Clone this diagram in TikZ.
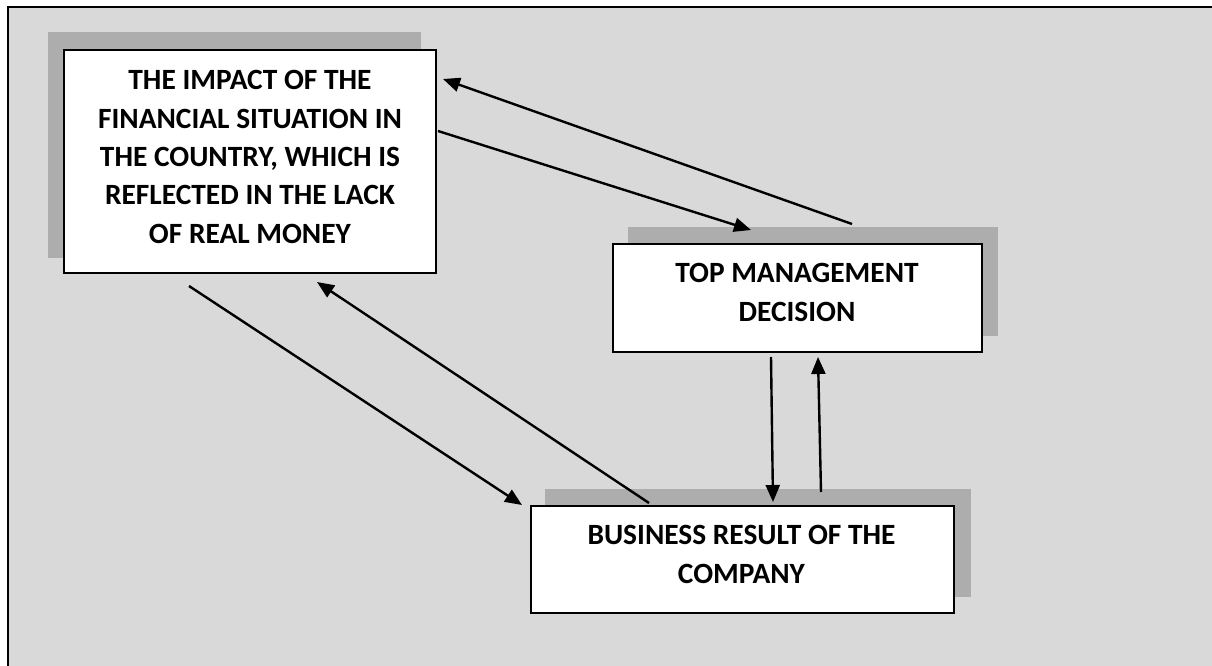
\documentclass[tikz,border=0pt]{standalone}
\usepackage{fontspec}
\setmainfont{Carlito}
\usetikzlibrary{arrows.meta}
\definecolor{bggray}{HTML}{D9D9D9}
\definecolor{shadowgray}{HTML}{ADADAD}
\tikzset{
  box/.style={draw=black, line width=2.2pt, fill=white, inner sep=0pt},
  boxtext/.style={inner sep=0pt, align=center,
    font=\fontsize{29.4}{38.4}\selectfont\bfseries},
  shade/.style={fill=shadowgray, draw=none},
  conn/.style={line width=2.4pt, -{Triangle[length=17pt,width=14pt]}}
}
\begin{document}
\begin{tikzpicture}[x=1pt,y=-1pt]
\useasboundingbox (0,0) rectangle (1212,666);
\clip (0,0) rectangle (1212,666);
\fill[white] (0,0) rectangle (1212,666);
\draw[fill=bggray, line width=2.4pt] (8,7) rectangle (1230,690);
% shadows
\fill[shade] (48,32) rectangle (421,258);
\fill[shade] (628,227) rectangle (998,336);
\fill[shade] (545,489) rectangle (971,597);
% boxes
\node[box, minimum width=372pt, minimum height=223pt] (impact) at (250,161.5) {};
\node[box, minimum width=369pt, minimum height=108pt] (top) at (797.5,298) {};
\node[box, minimum width=423pt, minimum height=107pt] (bus) at (742.5,559.5) {};
\node[boxtext] (impacttxt) at (250,157)
  {THE IMPACT OF THE\\FINANCIAL SITUATION IN\\THE COUNTRY, WHICH IS\\REFLECTED IN THE LACK\\OF REAL MONEY};
\node[boxtext] (toptxt) at (797,292.5) {TOP MANAGEMENT\\DECISION};
\node[boxtext] (bustxt) at (741.5,554.5) {BUSINESS RESULT OF THE\\COMPANY};
% connector end points
\coordinate (a1s) at (852,224); \coordinate (a1e) at (443,79);
\coordinate (a2s) at (438,131); \coordinate (a2e) at (751,230);
\coordinate (a3s) at (189,286); \coordinate (a3e) at (522,505);
\coordinate (a4s) at (649,503); \coordinate (a4e) at (317,282);
\coordinate (a5s) at (771,357); \coordinate (a5e) at (773,502);
\coordinate (a6s) at (821,492); \coordinate (a6e) at (818,357);
\draw[conn] (a1s) -- (a1e);
\draw[conn] (a2s) -- (a2e);
\draw[conn] (a3s) -- (a3e);
\draw[conn] (a4s) -- (a4e);
\draw[conn] (a5s) -- (a5e);
\draw[conn] (a6s) -- (a6e);
\end{tikzpicture}
\end{document}
